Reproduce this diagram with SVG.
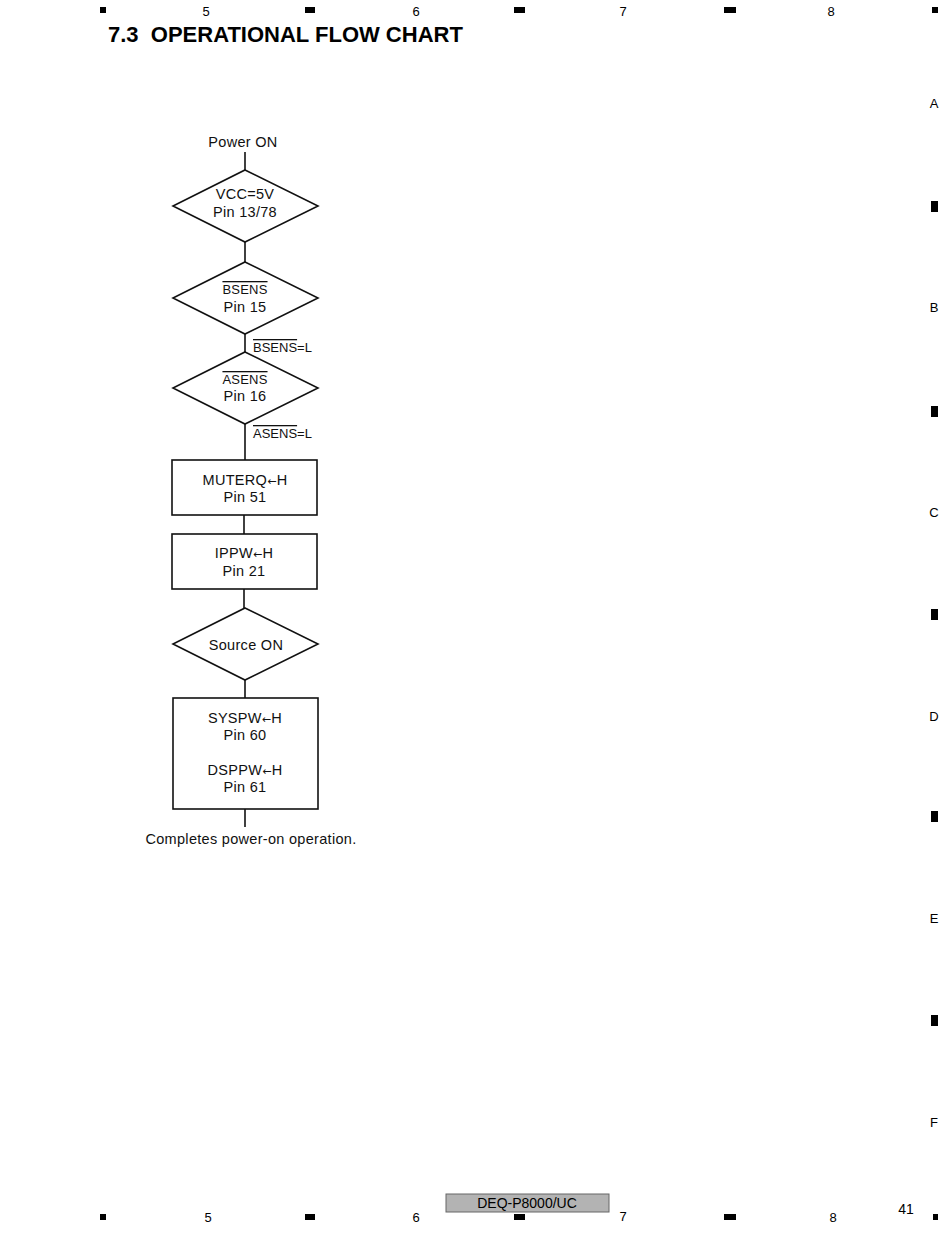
<svg xmlns="http://www.w3.org/2000/svg" width="950" height="1237" viewBox="0 0 950 1237">
<style>
.t{font-family:"Liberation Sans",Arial,sans-serif;font-size:14.5px;letter-spacing:0.3px;fill:#111;text-anchor:middle}
.l{font-family:"Liberation Sans",Arial,sans-serif;font-size:13px;fill:#111}
.s{fill:#fff;stroke:#111;stroke-width:1.6}
.c{stroke:#111;stroke-width:1.6;fill:none}
.m{fill:#000}
.g{font-family:"Liberation Sans",Arial,sans-serif;font-size:13px;fill:#000;text-anchor:middle}
.ov{text-decoration:overline}
.ar{font-family:"DejaVu Sans",sans-serif;font-size:11px}
</style>
<rect width="950" height="1237" fill="#fff"/>
<g id="frame">
<rect class="m" x="100" y="7" width="6" height="6"/>
<rect class="m" x="305" y="7" width="10" height="6"/>
<rect class="m" x="514" y="7" width="11" height="6"/>
<rect class="m" x="724" y="7" width="12" height="6"/>
<rect class="m" x="932" y="7" width="6" height="6"/>
<text class="g" x="206" y="16">5</text>
<text class="g" x="416" y="16">6</text>
<text class="g" x="623" y="16">7</text>
<text class="g" x="831" y="16">8</text>
<rect class="m" x="100" y="1214" width="6" height="6"/>
<rect class="m" x="305" y="1214" width="10" height="6"/>
<rect class="m" x="514" y="1214" width="11" height="6"/>
<rect class="m" x="724" y="1214" width="12" height="6"/>
<rect class="m" x="933" y="1214" width="5" height="6"/>
<text class="g" x="208" y="1222">5</text>
<text class="g" x="416" y="1222">6</text>
<text class="g" x="623" y="1221">7</text>
<text class="g" x="833" y="1222">8</text>
<text class="g" x="934" y="108">A</text>
<text class="g" x="934" y="312">B</text>
<text class="g" x="934" y="517">C</text>
<text class="g" x="934" y="721">D</text>
<text class="g" x="934" y="923">E</text>
<text class="g" x="934" y="1127">F</text>
<rect class="m" x="931" y="201" width="7" height="11"/>
<rect class="m" x="931" y="406" width="7" height="11"/>
<rect class="m" x="931" y="609" width="7" height="11"/>
<rect class="m" x="931" y="811" width="7" height="11"/>
<rect class="m" x="931" y="1015" width="7" height="11"/>
<text x="108" y="42" xml:space="preserve" style="font-family:'Liberation Sans',Arial,sans-serif;font-size:22px;font-weight:bold;fill:#000">7.3  OPERATIONAL FLOW CHART</text>
<rect x="446" y="1194" width="163" height="18" fill="#b3b3b3" stroke="#666" stroke-width="1"/>
<text class="g" x="527" y="1208" style="font-size:14px">DEQ-P8000/UC</text>
<text class="g" x="906" y="1214" style="font-size:14px">41</text>
</g>
<g id="connectors">
<line class="c" x1="245" y1="152" x2="245" y2="170"/>
<line class="c" x1="245" y1="242" x2="245" y2="262"/>
<line class="c" x1="245" y1="334" x2="245" y2="352"/>
<line class="c" x1="245" y1="424" x2="245" y2="460"/>
<line class="c" x1="244" y1="515" x2="244" y2="534"/>
<line class="c" x1="244" y1="589" x2="244" y2="608"/>
<line class="c" x1="245" y1="680" x2="245" y2="698"/>
<line class="c" x1="245" y1="809" x2="245" y2="827"/>
<text class="l" x="253" y="352"><tspan class="ov">BSENS</tspan>=L</text>
<text class="l" x="253" y="438"><tspan class="ov">ASENS</tspan>=L</text>
</g>
<g id="start"><text class="t" x="243" y="147">Power ON</text></g>
<g id="vcc">
<polygon class="s" points="245,170 318,206 245,242 173,206"/>
<text class="t" x="245" y="199">VCC=5V</text>
<text class="t" x="245" y="217">Pin 13/78</text>
</g>
<g id="bsens">
<polygon class="s" points="245,262 318,298 245,334 173,298"/>
<text class="t" x="245" y="294" style="font-size:13px;letter-spacing:0.2px"><tspan class="ov">BSENS</tspan></text>
<text class="t" x="245" y="312">Pin 15</text>
</g>
<g id="asens">
<polygon class="s" points="245,352 318,388 245,424 173,388"/>
<text class="t" x="245" y="384" style="font-size:13px;letter-spacing:0.2px"><tspan class="ov">ASENS</tspan></text>
<text class="t" x="245" y="401">Pin 16</text>
</g>
<g id="muterq">
<rect class="s" x="172" y="460" width="145" height="55"/>
<text class="t" x="245" y="485">MUTERQ<tspan class="ar">←</tspan>H</text>
<text class="t" x="245" y="502">Pin 51</text>
</g>
<g id="ippw">
<rect class="s" x="172" y="534" width="145" height="55"/>
<text class="t" x="244" y="558">IPPW<tspan class="ar">←</tspan>H</text>
<text class="t" x="244" y="576">Pin 21</text>
</g>
<g id="source">
<polygon class="s" points="245,608 318,644 245,680 173,644"/>
<text class="t" x="246" y="650">Source ON</text>
</g>
<g id="syspw">
<rect class="s" x="173" y="698" width="145" height="111"/>
<text class="t" x="245" y="723">SYSPW<tspan class="ar">←</tspan>H</text>
<text class="t" x="245" y="740">Pin 60</text>
<text class="t" x="245" y="775">DSPPW<tspan class="ar">←</tspan>H</text>
<text class="t" x="245" y="792">Pin 61</text>
</g>
<g id="end"><text class="t" x="251" y="844">Completes power-on operation.</text></g>
</svg>
